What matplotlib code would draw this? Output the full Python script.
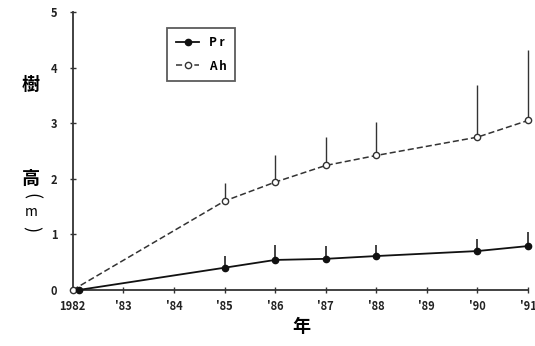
import matplotlib.pyplot as plt
import matplotlib as mpl

mpl.rcParams['font.family'] = ['Noto Sans CJK JP', 'DejaVu Sans']

years = [1982, 1985, 1986, 1987, 1988, 1990, 1991]
pr_mean = [0.0, 0.40, 0.54, 0.56, 0.61, 0.70, 0.79]
pr_err = [0.0, 0.21, 0.27, 0.23, 0.20, 0.22, 0.25]
ah_mean = [0.0, 1.60, 1.94, 2.24, 2.42, 2.75, 3.05]
ah_err = [0.0, 0.32, 0.48, 0.51, 0.61, 0.93, 1.26]
xtick_pos = list(range(1982, 1992))
xtick_lab = ['1982', "'83", "'84", "'85", "'86", "'87", "'88", "'89", "'90", "'91"]

fig = plt.figure(figsize=(5.35, 3.46), dpi=100)
ax = fig.add_axes([0.136, 0.162, 0.851, 0.803])

# error bars only upward
e1 = ax.errorbar(years, ah_mean, yerr=[[0]*len(ah_err), ah_err], fmt='none',
                 ecolor='#333333', elinewidth=1.0, capsize=0)
e2 = ax.errorbar(years, pr_mean, yerr=[[0]*len(pr_err), pr_err], fmt='none',
                 ecolor='#222222', elinewidth=1.2, capsize=0)
for e in (e1, e2):
    for c in e.lines[2]:
        c.set_clip_on(False)

ax.plot(years, ah_mean, linestyle=(0, (4, 2)), color='#333333', lw=1.1,
        marker='o', mfc='white', mec='#333333', ms=4.5, label='Ah', zorder=3)
pr_x = [years[0] + 0.12] + years[1:]
ax.plot(pr_x, pr_mean, '-', color='#111111', lw=1.3,
        marker='o', mfc='#111111', mec='#111111', ms=4.5, label='Pr', zorder=3)

ax.set_xlim(1982, 1991)
ax.set_ylim(0, 5)
ax.set_xticks(xtick_pos)
ax.set_xticklabels(xtick_lab)
ax.set_yticks([0, 1, 2, 3, 4, 5])
for s in ['top', 'right']:
    ax.spines[s].set_visible(False)
for s in ['left', 'bottom']:
    ax.spines[s].set_linewidth(1.3)
    ax.spines[s].set_color('#333333')
ax.tick_params(axis='both', direction='inout', length=4, width=1,
               colors='#333333', labelsize=8)
ax.tick_params(axis='x', pad=5)
ax.tick_params(axis='y', pad=9)
for lab in ax.get_xticklabels() + ax.get_yticklabels():
    lab.set_fontweight('bold')
    lab.set_color('#222222')
for ln in ax.lines:
    ln.set_clip_on(False)

h, l = ax.get_legend_handles_labels()
leg = ax.legend(h[::-1], ['P r', 'A h'], loc='upper left',
                bbox_to_anchor=(0.195, 0.965), frameon=True, fancybox=False,
                edgecolor='#333333', handlelength=2.0, borderpad=0.7,
                labelspacing=0.9, handletextpad=0.8,
                prop={'weight': 'bold', 'size': 8.5})
leg.get_frame().set_linewidth(1.3)

fig.text(0.564, 0.055, '年', fontsize=13, ha='center',
         va='center', fontweight='bold')
fig.text(0.058, 0.755, '樹', fontsize=13, ha='center', va='center', fontweight='bold')
fig.text(0.058, 0.485, '高', fontsize=13, ha='center', va='center', fontweight='bold')
fig.text(0.058, 0.432, '(', fontsize=13, ha='center', va='center', rotation=-90)
fig.text(0.058, 0.387, 'm', fontsize=10, ha='center', va='center')
fig.text(0.058, 0.338, ')', fontsize=13, ha='center', va='center', rotation=-90)

fig.savefig('out.png', dpi=100)
